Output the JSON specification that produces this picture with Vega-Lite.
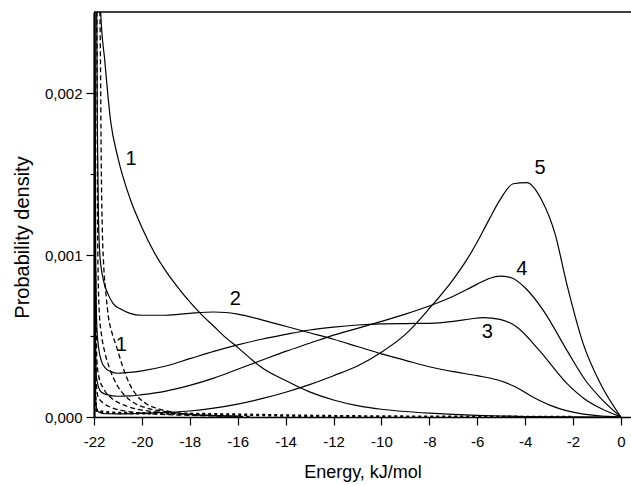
{
  "$schema": "https://vega.github.io/schema/vega-lite/v6.json",
  "width": 537,
  "height": 405,
  "autosize": {"type": "none"},
  "padding": {"left": 94, "top": 12, "right": 0, "bottom": 68},
  "background": "white",
  "config": {
    "font": "Liberation Sans",
    "view": {"stroke": null},
    "axis": {"labelColor": "black", "titleColor": "black", "domainColor": "black", "tickColor": "black", "grid": false, "titleFontWeight": "normal"}
  },
  "datasets": {
    "solid": [
      {"s": "1", "e": -21.76, "p": 0.0028}, {"s": "1", "e": -21.72, "p": 0.0025}, {"s": "1", "e": -21.55, "p": 0.0022}, {"s": "1", "e": -21.3, "p": 0.00182}, {"s": "1", "e": -21.0, "p": 0.0016}, {"s": "1", "e": -20.5, "p": 0.00135}, {"s": "1", "e": -20.0, "p": 0.00117}, {"s": "1", "e": -19.5, "p": 0.00102}, {"s": "1", "e": -19.0, "p": 0.0009}, {"s": "1", "e": -18.5, "p": 0.0008}, {"s": "1", "e": -18.0, "p": 0.00071}, {"s": "1", "e": -17.5, "p": 0.00063}, {"s": "1", "e": -17.0, "p": 0.00056}, {"s": "1", "e": -16.5, "p": 0.00049}, {"s": "1", "e": -16.0, "p": 0.00043}, {"s": "1", "e": -15.5, "p": 0.000365}, {"s": "1", "e": -15.0, "p": 0.000305}, {"s": "1", "e": -14.0, "p": 0.000225}, {"s": "1", "e": -13.0, "p": 0.000155}, {"s": "1", "e": -12.0, "p": 0.000105}, {"s": "1", "e": -11.0, "p": 0.00007}, {"s": "1", "e": -10.0, "p": 0.000048}, {"s": "1", "e": -9.0, "p": 0.000034}, {"s": "1", "e": -8.0, "p": 0.000024}, {"s": "1", "e": -7.0, "p": 0.000016}, {"s": "1", "e": -6.0, "p": 0.00001}, {"s": "1", "e": -5.0, "p": 0.000006}, {"s": "1", "e": -4.0, "p": 0.000003}, {"s": "1", "e": -2.0, "p": 0.000001}, {"s": "1", "e": 0, "p": 0},

      {"s": "2", "e": -21.9, "p": 0.0028}, {"s": "2", "e": -21.86, "p": 0.0018}, {"s": "2", "e": -21.82, "p": 0.0013}, {"s": "2", "e": -21.76, "p": 0.00101}, {"s": "2", "e": -21.6, "p": 0.00084}, {"s": "2", "e": -21.42, "p": 0.00076}, {"s": "2", "e": -21.2, "p": 0.0007}, {"s": "2", "e": -20.87, "p": 0.000665}, {"s": "2", "e": -20.5, "p": 0.00064}, {"s": "2", "e": -20.0, "p": 0.000628}, {"s": "2", "e": -19.0, "p": 0.000628}, {"s": "2", "e": -18.0, "p": 0.00064}, {"s": "2", "e": -17.0, "p": 0.000648}, {"s": "2", "e": -16.5, "p": 0.000645}, {"s": "2", "e": -16.0, "p": 0.000635}, {"s": "2", "e": -15.0, "p": 0.0006}, {"s": "2", "e": -14.0, "p": 0.00056}, {"s": "2", "e": -13.0, "p": 0.00052}, {"s": "2", "e": -12.0, "p": 0.00048}, {"s": "2", "e": -11.0, "p": 0.000435}, {"s": "2", "e": -10.0, "p": 0.00039}, {"s": "2", "e": -9.0, "p": 0.00035}, {"s": "2", "e": -8.0, "p": 0.00031}, {"s": "2", "e": -7.0, "p": 0.00028}, {"s": "2", "e": -6.0, "p": 0.000255}, {"s": "2", "e": -5.0, "p": 0.000222}, {"s": "2", "e": -4.4, "p": 0.000185}, {"s": "2", "e": -3.7, "p": 0.000125}, {"s": "2", "e": -3.0, "p": 0.000075}, {"s": "2", "e": -2.0, "p": 0.00003}, {"s": "2", "e": -1.0, "p": 0.000008}, {"s": "2", "e": 0, "p": 0},

      {"s": "3", "e": -21.97, "p": 0.0028}, {"s": "3", "e": -21.93, "p": 0.001}, {"s": "3", "e": -21.88, "p": 0.00055}, {"s": "3", "e": -21.8, "p": 0.00042}, {"s": "3", "e": -21.7, "p": 0.00035}, {"s": "3", "e": -21.54, "p": 0.000305}, {"s": "3", "e": -21.3, "p": 0.00028}, {"s": "3", "e": -21.0, "p": 0.00027}, {"s": "3", "e": -20.5, "p": 0.000275}, {"s": "3", "e": -20.0, "p": 0.000285}, {"s": "3", "e": -19.0, "p": 0.000315}, {"s": "3", "e": -18.0, "p": 0.00036}, {"s": "3", "e": -17.0, "p": 0.000405}, {"s": "3", "e": -16.0, "p": 0.000445}, {"s": "3", "e": -15.0, "p": 0.00048}, {"s": "3", "e": -14.0, "p": 0.00051}, {"s": "3", "e": -13.0, "p": 0.000537}, {"s": "3", "e": -12.0, "p": 0.000555}, {"s": "3", "e": -11.0, "p": 0.000568}, {"s": "3", "e": -10.0, "p": 0.000575}, {"s": "3", "e": -9.0, "p": 0.000577}, {"s": "3", "e": -8.0, "p": 0.000578}, {"s": "3", "e": -7.0, "p": 0.00059}, {"s": "3", "e": -6.3, "p": 0.000605}, {"s": "3", "e": -5.75, "p": 0.000614}, {"s": "3", "e": -5.05, "p": 0.000603}, {"s": "3", "e": -4.35, "p": 0.000556}, {"s": "3", "e": -3.4, "p": 0.00041}, {"s": "3", "e": -2.25, "p": 0.000206}, {"s": "3", "e": -1.5, "p": 0.00011}, {"s": "3", "e": -0.87, "p": 0.000055}, {"s": "3", "e": 0, "p": 0},

      {"s": "4", "e": -21.98, "p": 0.0028}, {"s": "4", "e": -21.95, "p": 0.0008}, {"s": "4", "e": -21.9, "p": 0.00025}, {"s": "4", "e": -21.8, "p": 0.00018}, {"s": "4", "e": -21.7, "p": 0.000154}, {"s": "4", "e": -21.5, "p": 0.00014}, {"s": "4", "e": -21.0, "p": 0.000128}, {"s": "4", "e": -20.5, "p": 0.00013}, {"s": "4", "e": -20.0, "p": 0.000138}, {"s": "4", "e": -19.0, "p": 0.00016}, {"s": "4", "e": -18.0, "p": 0.000195}, {"s": "4", "e": -17.0, "p": 0.00024}, {"s": "4", "e": -16.0, "p": 0.000295}, {"s": "4", "e": -15.0, "p": 0.00035}, {"s": "4", "e": -14.0, "p": 0.000405}, {"s": "4", "e": -13.0, "p": 0.000455}, {"s": "4", "e": -12.0, "p": 0.000505}, {"s": "4", "e": -11.0, "p": 0.000547}, {"s": "4", "e": -10.0, "p": 0.00059}, {"s": "4", "e": -9.0, "p": 0.000635}, {"s": "4", "e": -8.0, "p": 0.000685}, {"s": "4", "e": -7.0, "p": 0.000745}, {"s": "4", "e": -6.0, "p": 0.00082}, {"s": "4", "e": -5.5, "p": 0.000855}, {"s": "4", "e": -5.05, "p": 0.00087}, {"s": "4", "e": -4.55, "p": 0.000858}, {"s": "4", "e": -3.95, "p": 0.00079}, {"s": "4", "e": -3.25, "p": 0.00066}, {"s": "4", "e": -2.25, "p": 0.00041}, {"s": "4", "e": -1.5, "p": 0.00023}, {"s": "4", "e": -0.87, "p": 0.00012}, {"s": "4", "e": 0, "p": 0},

      {"s": "5", "e": -21.99, "p": 0.0028}, {"s": "5", "e": -21.96, "p": 0.0003}, {"s": "5", "e": -21.9, "p": 0.00006}, {"s": "5", "e": -21.8, "p": 0.00003}, {"s": "5", "e": -21.5, "p": 0.00002}, {"s": "5", "e": -21.0, "p": 0.000019}, {"s": "5", "e": -20.0, "p": 0.000022}, {"s": "5", "e": -19.0, "p": 0.000028}, {"s": "5", "e": -18.0, "p": 0.000037}, {"s": "5", "e": -17.0, "p": 0.000055}, {"s": "5", "e": -16.0, "p": 0.00008}, {"s": "5", "e": -15.0, "p": 0.000113}, {"s": "5", "e": -14.0, "p": 0.000153}, {"s": "5", "e": -13.0, "p": 0.0002}, {"s": "5", "e": -12.0, "p": 0.000255}, {"s": "5", "e": -11.0, "p": 0.000315}, {"s": "5", "e": -10.0, "p": 0.0004}, {"s": "5", "e": -9.0, "p": 0.00051}, {"s": "5", "e": -8.0, "p": 0.00067}, {"s": "5", "e": -7.0, "p": 0.00085}, {"s": "5", "e": -6.44, "p": 0.00097}, {"s": "5", "e": -6.0, "p": 0.00108}, {"s": "5", "e": -5.5, "p": 0.00122}, {"s": "5", "e": -5.05, "p": 0.00134}, {"s": "5", "e": -4.5, "p": 0.00144}, {"s": "5", "e": -3.93, "p": 0.001447}, {"s": "5", "e": -3.31, "p": 0.00134}, {"s": "5", "e": -2.75, "p": 0.00113}, {"s": "5", "e": -2.26, "p": 0.00082}, {"s": "5", "e": -1.57, "p": 0.00045}, {"s": "5", "e": -0.87, "p": 0.00021}, {"s": "5", "e": 0, "p": 0}
    ],
    "dashed": [
      {"s": "d1", "e": -21.8, "p": 0.0028}, {"s": "d1", "e": -21.73, "p": 0.0022}, {"s": "d1", "e": -21.7, "p": 0.0016}, {"s": "d1", "e": -21.66, "p": 0.0012}, {"s": "d1", "e": -21.6, "p": 0.00095}, {"s": "d1", "e": -21.5, "p": 0.00076}, {"s": "d1", "e": -21.4, "p": 0.00062}, {"s": "d1", "e": -21.25, "p": 0.00052}, {"s": "d1", "e": -21.05, "p": 0.00043}, {"s": "d1", "e": -20.8, "p": 0.00031}, {"s": "d1", "e": -20.5, "p": 0.0002}, {"s": "d1", "e": -20.2, "p": 0.00013}, {"s": "d1", "e": -19.8, "p": 0.00008}, {"s": "d1", "e": -19.3, "p": 0.00005}, {"s": "d1", "e": -18.5, "p": 0.000025}, {"s": "d1", "e": -17.5, "p": 0.000012}, {"s": "d1", "e": -16.5, "p": 0.000006}, {"s": "d1", "e": -15.5, "p": 0.000003},

      {"s": "d2", "e": -21.88, "p": 0.0028}, {"s": "d2", "e": -21.86, "p": 0.0015}, {"s": "d2", "e": -21.83, "p": 0.0009}, {"s": "d2", "e": -21.78, "p": 0.00065}, {"s": "d2", "e": -21.68, "p": 0.0005}, {"s": "d2", "e": -21.55, "p": 0.0004}, {"s": "d2", "e": -21.35, "p": 0.0003}, {"s": "d2", "e": -21.05, "p": 0.0002}, {"s": "d2", "e": -20.7, "p": 0.00013}, {"s": "d2", "e": -20.3, "p": 0.000085}, {"s": "d2", "e": -19.8, "p": 0.000055}, {"s": "d2", "e": -19.2, "p": 0.000037}, {"s": "d2", "e": -18.3, "p": 0.00002}, {"s": "d2", "e": -17.0, "p": 0.000009}, {"s": "d2", "e": -16.0, "p": 0.000004},

      {"s": "d3", "e": -21.93, "p": 0.0009}, {"s": "d3", "e": -21.88, "p": 0.00035}, {"s": "d3", "e": -21.8, "p": 0.00025}, {"s": "d3", "e": -21.6, "p": 0.000175}, {"s": "d3", "e": -21.3, "p": 0.00012}, {"s": "d3", "e": -21.0, "p": 0.00009}, {"s": "d3", "e": -20.5, "p": 0.00006}, {"s": "d3", "e": -20.0, "p": 0.000043}, {"s": "d3", "e": -19.3, "p": 0.00003}, {"s": "d3", "e": -18.3, "p": 0.000018}, {"s": "d3", "e": -17.0, "p": 0.000009}, {"s": "d3", "e": -16.0, "p": 0.000005},

      {"s": "d4", "e": -21.95, "p": 0.0005}, {"s": "d4", "e": -21.9, "p": 0.0002}, {"s": "d4", "e": -21.83, "p": 0.000125}, {"s": "d4", "e": -21.6, "p": 0.000085}, {"s": "d4", "e": -21.3, "p": 0.00006}, {"s": "d4", "e": -20.9, "p": 0.000042}, {"s": "d4", "e": -20.2, "p": 0.000027}, {"s": "d4", "e": -19.3, "p": 0.000017}, {"s": "d4", "e": -18.0, "p": 0.00001}, {"s": "d4", "e": -16.5, "p": 0.000005}
    ],
    "dashedThick": [
      {"s": "d5", "e": -21.97, "p": 0.0002}, {"s": "d5", "e": -21.9, "p": 0.00004}, {"s": "d5", "e": -21.5, "p": 0.00003}, {"s": "d5", "e": -21.0, "p": 0.000025}, {"s": "d5", "e": -19.0, "p": 0.000022}, {"s": "d5", "e": -17.0, "p": 0.000017}, {"s": "d5", "e": -15.0, "p": 0.000012}, {"s": "d5", "e": -13.0, "p": 0.000007}, {"s": "d5", "e": -10.0, "p": 0.000003}, {"s": "d5", "e": -7.0, "p": 0.0000015}, {"s": "d5", "e": -4.0, "p": 0.0000007}, {"s": "d5", "e": -2.0, "p": 0.0000002}
    ],
    "labels": [
      {"t": "1", "e": -20.45, "p": 0.00159},
      {"t": "2", "e": -16.1, "p": 0.00073},
      {"t": "3", "e": -5.58, "p": 0.000525},
      {"t": "4", "e": -4.14, "p": 0.000916},
      {"t": "5", "e": -3.38, "p": 0.00154},
      {"t": "1", "e": -20.86, "p": 0.000443}
    ]
  },
  "layer": [
    {
      "data": {"name": "solid"},
      "mark": {"type": "line", "interpolate": "monotone", "color": "black", "strokeWidth": 1.2, "clip": true},
      "encoding": {
        "x": {
          "field": "e", "type": "quantitative",
          "scale": {"domain": [-22, 0.42], "nice": false, "zero": false},
          "axis": {
            "values": [-22, -21, -20, -19, -18, -17, -16, -15, -14, -13, -12, -11, -10, -9, -8, -7, -6, -5, -4, -3, -2, -1, 0],
            "labelExpr": "datum.value % 2 === 0 ? datum.value + '' : ''",
            "tickSize": {"condition": {"test": "datum.value % 2 === 0", "value": 8}, "value": 4},
            "tickWidth": 1.2,
            "domainWidth": 1.5,
            "labelFontSize": 15,
            "labelPadding": 9,
            "labelFlush": false,
            "labelOverlap": false,
            "title": "Energy, kJ/mol",
            "titleFontSize": 18,
            "titleBaseline": "alphabetic",
            "titleY": 60
          }
        },
        "y": {
          "field": "p", "type": "quantitative",
          "scale": {"domain": [0, 0.0025], "nice": false, "zero": false},
          "axis": {
            "values": [0, 0.0005, 0.001, 0.0015, 0.002],
            "labelExpr": "(round(datum.value * 2000) % 2 === 0) ? replace(format(datum.value, '.3f'), '.', ',') : ''",
            "tickSize": {"condition": {"test": "round(datum.value * 2000) % 2 === 0", "value": 8}, "value": 4},
            "tickWidth": 1.2,
            "domainWidth": 2.2,
            "labelFontSize": 15,
            "labelPadding": 4,
            "labelOverlap": false,
            "title": "Probability density",
            "titleFontSize": 20,
            "titleBaseline": "alphabetic",
            "titleAlign": "center",
            "titleX": -66,
            "titleY": 225
          }
        },
        "detail": {"field": "s"}
      }
    },
    {
      "data": {"name": "dashed"},
      "mark": {"type": "line", "interpolate": "monotone", "color": "black", "strokeWidth": 1.3, "strokeDash": [5, 3], "clip": true},
      "encoding": {
        "x": {"field": "e", "type": "quantitative"},
        "y": {"field": "p", "type": "quantitative"},
        "detail": {"field": "s"}
      }
    },
    {
      "data": {"name": "dashedThick"},
      "mark": {"type": "line", "interpolate": "monotone", "color": "black", "strokeWidth": 2.5, "strokeDash": [3, 3], "clip": true},
      "encoding": {
        "x": {"field": "e", "type": "quantitative"},
        "y": {"field": "p", "type": "quantitative"},
        "detail": {"field": "s"}
      }
    },
    {
      "data": {"name": "labels"},
      "mark": {"type": "text", "fontSize": 20, "color": "black", "align": "center", "baseline": "middle"},
      "encoding": {
        "x": {"field": "e", "type": "quantitative"},
        "y": {"field": "p", "type": "quantitative"},
        "text": {"field": "t"}
      }
    },
    {
      "data": {"values": [{}]},
      "mark": {"type": "rule", "color": "black", "strokeWidth": 1.5},
      "encoding": {"y": {"datum": 0.0025, "type": "quantitative"}}
    }
  ]
}
